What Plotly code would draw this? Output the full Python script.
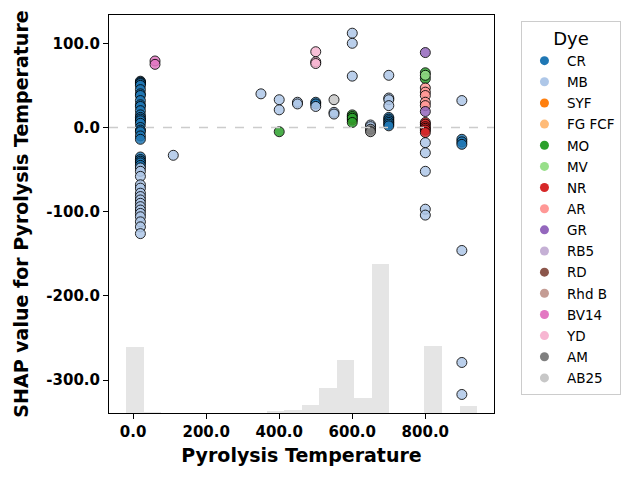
import plotly.graph_objects as go

# ---------------- data ----------------
dyes = ["CR", "MB", "SYF", "FG FCF", "MO", "MV", "NR", "AR", "GR", "RB5",
        "RD", "Rhd B", "BV14", "YD", "AM", "AB25"]
dye_colors = ["#1f77b4", "#aec7e8", "#ff7f0e", "#ffbb78", "#2ca02c", "#98df8a",
              "#d62728", "#ff9896", "#9467bd", "#c5b0d5", "#8c564b", "#c49c94",
              "#e377c2", "#f7b6d2", "#7f7f7f", "#c7c7c7"]

# (temperature, SHAP value) per dye
cr_temp = [20]*27 + [500]*2 + [700]*6 + [900]*3
cr_shap = [55, 54, 53, 52, 50, 45, 40, 38, 32, 27, 25, 20, 15, 12, 10, 8, 5, 0,
           -3, -5, -10, -14, -35, -38, -40, -42, -45,
           30, 28,
           12, 10, 8, 6, 4, 2,
           -14, -17, -20]
mb_temp = ([20]*16 + [110, 350, 400, 400, 450, 450, 500, 550, 550, 600, 600, 600,
           650, 650, 700, 700, 700, 700] + [800]*5 + [900]*4)
mb_shap = ([-48, -52, -58, -68, -72, -78, -82, -86, -90, -94, -98, -102, -106,
            -112, -118, -126,
            -33, 40, 33, 21, 30, 28, 25, 18, 16, 112, 100, 61,
            3, 1, 62, 35, 33, 26,
            -18, -30, -52, -97, -104,
            32, -146, -279, -317])
syf_temp = [600]
syf_shap = [9]
mo_temp = [400, 600, 600, 600, 600, 800, 800]
mo_shap = [-5, 15, 13, 11, 6, 65, 58]
mv_temp = [800]
mv_shap = [62]
nr_temp = [800]*6
nr_shap = [6, 4, 1, -1, -3, -6]
ar_temp = [800]*5
ar_shap = [47, 42, 38, 30, 26]
gr_temp = [800, 800]
gr_shap = [89, 19]
bv14_temp = [60, 60]
bv14_shap = [79, 75]
yd_temp = [500, 500, 500]
yd_shap = [90, 78, 76]
am_temp = [650, 650]
am_shap = [-2, -5]
ab25_temp = [550]
ab25_shap = [33]

points = {
    "CR": (cr_temp, cr_shap), "MB": (mb_temp, mb_shap), "SYF": (syf_temp, syf_shap),
    "MO": (mo_temp, mo_shap), "MV": (mv_temp, mv_shap), "NR": (nr_temp, nr_shap),
    "AR": (ar_temp, ar_shap), "GR": (gr_temp, gr_shap), "BV14": (bv14_temp, bv14_shap),
    "YD": (yd_temp, yd_shap), "AM": (am_temp, am_shap), "AB25": (ab25_temp, ab25_shap),
}

# background histogram of Pyrolysis Temperature
hist_bin_width = 48.05
hist_centers = [4.8, 52.9, 100.9, 341.2, 389.2, 437.3, 485.3, 533.4, 581.4,
                629.5, 677.5, 821.7, 917.8]
hist_counts = [164, 3, 1, 1, 5, 8, 21, 61, 131, 38, 368, 167, 18]

x_ticks = [0, 200, 400, 600, 800]
y_ticks = [100, 0, -100, -200, -300]

# ---------------- figure ----------------
FONT = "DejaVu Sans"
fig = go.Figure()

fig.add_trace(go.Bar(
    x=hist_centers, y=hist_counts, width=[hist_bin_width]*len(hist_centers),
    marker=dict(color="rgba(0,0,0,0.1)", line=dict(width=0)),
    xaxis="x", yaxis="y", showlegend=False, hoverinfo="skip"))

for name, color in zip(dyes, dye_colors):
    if name in points:
        xs, ys = points[name]
        fig.add_trace(go.Scatter(
            x=xs, y=ys, mode="markers", xaxis="x", yaxis="y2", showlegend=False,
            marker=dict(size=10, color=color, opacity=0.85,
                        line=dict(color="black", width=1))))

for name, color in zip(dyes, dye_colors):
    fig.add_trace(go.Scatter(
        x=[None], y=[None], mode="markers", name=name, xaxis="x", yaxis="y2",
        legendgroup=name, marker=dict(size=9, color=color)))

fig.update_layout(
    width=640, height=480,
    margin=dict(l=109, r=146, t=15, b=67),
    paper_bgcolor="white", plot_bgcolor="white",
    font=dict(family=FONT, color="black"),
    bargap=0,
    xaxis=dict(
        range=[-66, 988], tickvals=x_ticks, ticktext=[f"{v:.1f}" for v in x_ticks],
        showgrid=False, zeroline=False, showline=True, linecolor="black",
        linewidth=1, mirror=True, ticks="outside", ticklen=5, tickcolor="black",
        tickfont=dict(size=15, weight="bold"),
        title=dict(text="Pyrolysis Temperature", font=dict(size=19, weight="bold"),
                   standoff=8)),
    yaxis=dict(range=[0, sum(hist_counts)], visible=False, showgrid=False,
               zeroline=False),
    yaxis2=dict(
        overlaying="y", side="left", range=[-339, 133.6],
        tickvals=y_ticks, ticktext=[f"{v:.1f}" for v in y_ticks],
        showgrid=False, zeroline=False, showline=True, linecolor="black",
        linewidth=1, mirror=True, ticks="outside", ticklen=5, tickcolor="black",
        tickfont=dict(size=15, weight="bold"),
        title=dict(text="SHAP value for Pyrolysis Temperature",
                   font=dict(size=19, weight="bold"), standoff=12)),
    legend=dict(
        x=1.07, y=0.985, xanchor="left", yanchor="top",
        bgcolor="white", bordercolor="#cccccc", borderwidth=1,
        font=dict(size=13.5), tracegroupgap=0.6,
        title=dict(text="Dye", font=dict(size=18), side="top center"),
        itemwidth=35),
    shapes=[dict(type="line", xref="paper", x0=0, x1=1, yref="y2", y0=0, y1=0,
                 line=dict(color="#cccccc", width=1.5, dash="dash"), layer="above")],
)

fig.write_html("out.html")
